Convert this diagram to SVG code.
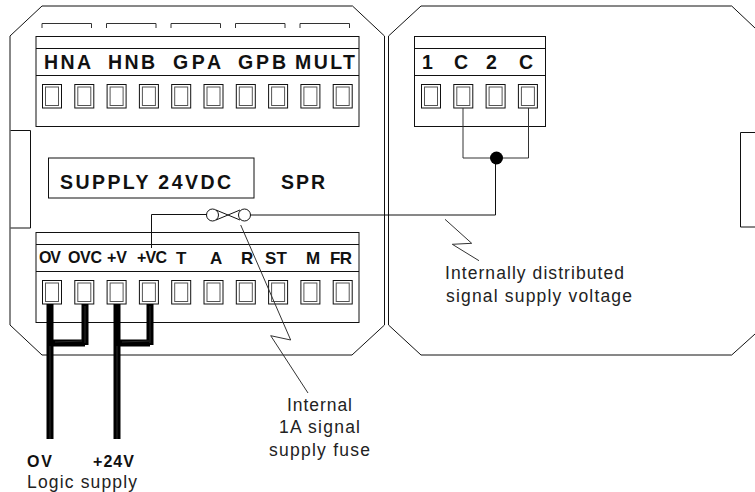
<svg xmlns="http://www.w3.org/2000/svg" xmlns:xlink="http://www.w3.org/1999/xlink" width="755" height="492" viewBox="0 0 755 492">
<style>
.l{fill:none;stroke:#111;stroke-width:1}
.g{fill:none;stroke:#333;stroke-width:1}
.t{fill:none;stroke:#111;stroke-width:1}
.in{fill:none;stroke:#555;stroke-width:1}
text{font-family:"Liberation Sans",Arial,sans-serif;fill:#111}
.b18{font-weight:bold;font-size:19.5px}
.b16{font-weight:bold;font-size:17px}
.b15{font-weight:bold;font-size:16px}
.n{font-size:17.5px;fill:#222}
.w{fill:none;stroke:#000;stroke-width:7}
.wc{fill:none;stroke:#2a2a2a;stroke-width:1}
</style>
<defs>
<g id="term"><rect class="t" x="0.5" y="0.5" width="19" height="23.5"/><rect class="in" x="3.5" y="3" width="13" height="18.5"/></g>
<path id="br" class="g" d="M0.5 28V23.5H50V28"/>
</defs>
<g id="left-panel"><path class="l" d="M42 6H352.500L384.500 36V325L352 355H42L10 325V36Z"/><path class="l" d="M10.500 130.500H30.500V228H10.500"/></g>
<g id="right-panel"><path class="l" d="M755 28L731.700 6H421L388.500 36V325L421 355H731.700L755 334"/><path class="l" d="M755 132.500H740.500V227H755"/></g>
<g id="brackets"><use xlink:href="#br" x="41.500"/><use xlink:href="#br" x="106"/><use xlink:href="#br" x="170.500"/><use xlink:href="#br" x="235"/><use xlink:href="#br" x="299.500"/></g>
<g id="block-top">
<rect class="l" x="36" y="36.500" width="323" height="90"/><path class="l" d="M36 48.500H359M36 75.500H359"/>
<use xlink:href="#term" x="42" y="84"/><use xlink:href="#term" x="74.300" y="84"/><use xlink:href="#term" x="106.600" y="84"/><use xlink:href="#term" x="138.900" y="84"/><use xlink:href="#term" x="171.200" y="84"/><use xlink:href="#term" x="203.500" y="84"/><use xlink:href="#term" x="235.800" y="84"/><use xlink:href="#term" x="268.100" y="84"/><use xlink:href="#term" x="300.400" y="84"/><use xlink:href="#term" x="332.700" y="84"/>
<text class="b18" x="44" y="68.500" textLength="47">HNA</text><text class="b18" x="108" y="68.500" textLength="47">HNB</text><text class="b18" x="173" y="68.500" textLength="48">GPA</text><text class="b18" x="238" y="68.500" textLength="48">GPB</text><text class="b18" x="295" y="68.500" textLength="60">MULT</text>
</g>
<g id="block-right">
<rect class="l" x="414.500" y="36.500" width="131" height="90"/><path class="l" d="M414.500 48.500H545.500M414.500 75.500H545.500"/>
<use xlink:href="#term" x="421" y="84"/><use xlink:href="#term" x="453.300" y="84"/><use xlink:href="#term" x="485.600" y="84"/><use xlink:href="#term" x="517.900" y="84"/>
<text class="b18" x="422" y="68.500">1</text><text class="b18" x="454" y="68.500">C</text><text class="b18" x="486" y="68.500">2</text><text class="b18" x="519" y="68.500">C</text>
</g>
<g id="supply-box"><rect class="l" x="48.500" y="158" width="205.500" height="40"/><text class="b18" x="60" y="188.500" textLength="171">SUPPLY 24VDC</text></g>
<g id="spr"><text class="b18" x="281" y="188.500" textLength="44">SPR</text></g>
<g id="block-bottom">
<rect class="l" x="36" y="232.500" width="323" height="90"/><path class="l" d="M36 244.500H359M36 271.500H359"/>
<use xlink:href="#term" x="42" y="280"/><use xlink:href="#term" x="74.300" y="280"/><use xlink:href="#term" x="106.600" y="280"/><use xlink:href="#term" x="138.900" y="280"/><use xlink:href="#term" x="171.200" y="280"/><use xlink:href="#term" x="203.500" y="280"/><use xlink:href="#term" x="235.800" y="280"/><use xlink:href="#term" x="268.100" y="280"/><use xlink:href="#term" x="300.400" y="280"/><use xlink:href="#term" x="332.700" y="280"/>
<text class="b15" x="39" y="263" textLength="22">OV</text><text class="b15" x="68" y="263" textLength="34">OVC</text><text class="b15" x="107" y="263" textLength="20">+V</text><text class="b15" x="137" y="263" textLength="30">+VC</text><text class="b16" x="176" y="264">T</text><text class="b16" x="210" y="264">A</text><text class="b16" x="241" y="264">R</text><text class="b16" x="265" y="264" textLength="22">ST</text><text class="b16" x="306" y="264">M</text><text class="b16" x="330" y="264" textLength="22">FR</text>
</g>
<g id="fuse"><circle class="l" cx="212.500" cy="215" r="6"/><circle class="l" cx="244.500" cy="215" r="6"/><path class="l" d="M216 210L240 220M216 220L240 210"/></g>
<g id="connectors">
<path class="l" d="M206.500 214.500H151.500V248"/>
<path class="l" d="M250.500 215H495.500V158"/>
<path class="g" d="M463 108V158H528.500V108"/>
<circle cx="496.500" cy="158" r="6.500" fill="#000"/>
<path class="w" d="M50 304V439M117 304V439M50 343H85M117 343H150M85 304V345M150 304V345"/>
<path class="wc" d="M50 346V439M117 346V439M55 342L82 341M122 342L149 341M85 306V343M150 306V343"/>
<path class="g" d="M240.700 225L290.700 340L270.700 335.700L308 393"/>
<path class="g" d="M445 219.300L471.700 243.300L452.300 244.300L479 260.700"/>
</g>
<g id="labels">
<text class="n" x="287" y="411" textLength="65">Internal</text><text class="n" x="279" y="433" textLength="81">1A signal</text><text class="n" x="269" y="456" textLength="101">supply fuse</text>
<text class="n" x="445" y="279" textLength="179">Internally distributed</text><text class="n" x="446" y="302" textLength="186">signal supply voltage</text>
<text class="b15" x="27" y="467" textLength="25">OV</text><text class="b15" x="93" y="467" textLength="41">+24V</text><text class="n" x="27" y="487.500" textLength="110">Logic supply</text>
</g>
</svg>
